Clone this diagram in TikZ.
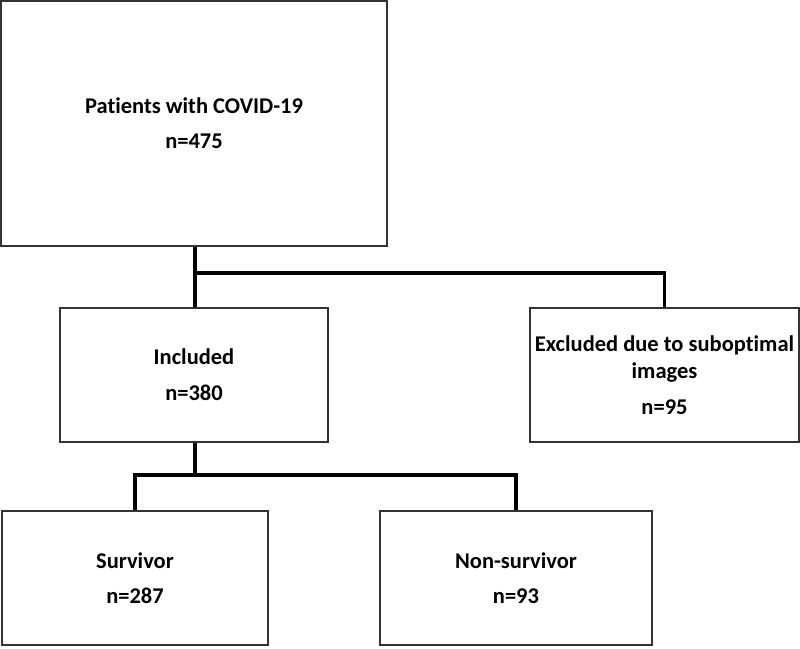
\documentclass[tikz,border=0pt]{standalone}
\usepackage{fontspec}
\setmainfont{Carlito}[Ligatures=NoCommon]
\begin{document}
\begin{tikzpicture}[x=1pt,y=-1pt,
  box/.style={draw=black!80, line width=1.8pt, fill=white, rectangle, inner sep=0pt, align=center,
    font=\bfseries\fontsize{22.5}{27}\selectfont},
  conn/.style={draw=black, line width=3.4pt, line cap=butt}]
\useasboundingbox (0,0) rectangle (800,648);
\coordinate (j1) at (195,273);
\coordinate (j2) at (195,475);
\node[box, minimum width=386, minimum height=245] (p) at (194,123.5) {Patients with COVID-19\\[8pt]n=475};
\node[box, minimum width=268, minimum height=134] (inc) at (194,375) {Included\\[9pt]n=380};
\node[box, minimum width=269, minimum height=134] (exc) at (664.5,375) {Excluded due to suboptimal\\images\\[9pt]n=95};
\node[box, minimum width=266, minimum height=134] (sur) at (135,578) {Survivor\\[8pt]n=287};
\node[box, minimum width=272, minimum height=134] (non) at (516,578) {Non-survivor\\[8pt]n=93};
\draw[conn] (p.south -| j1) -- (inc.north -| j1);
\draw[conn] (j1) -| (exc.north);
\draw[conn] (inc.south -| j2) -- (j2);
\draw[conn] (sur.north) |- (j2) -| (non.north);
\end{tikzpicture}
\end{document}
